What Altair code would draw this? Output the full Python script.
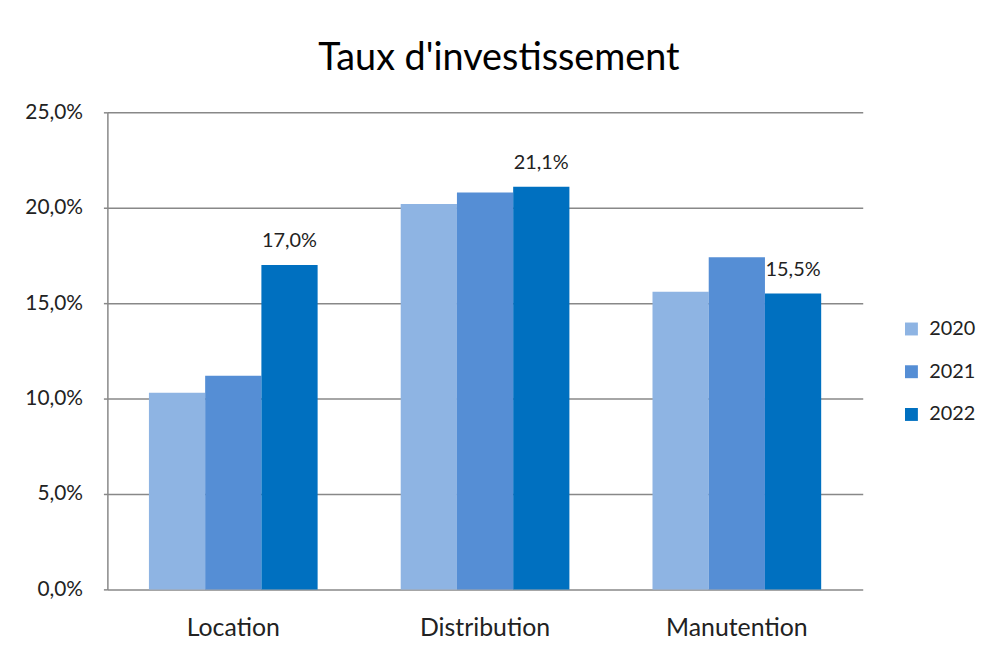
import altair as alt
import pandas as pd

categories = ["Location", "Distribution", "Manutention"]
years = ["2020", "2021", "2022"]
v2020 = [10.3, 20.2, 15.6]
v2021 = [11.2, 20.8, 17.4]
v2022 = [17.0, 21.1, 15.5]
y_ticks = [0, 5, 10, 15, 20, 25]
colors = ["#8EB4E3", "#558ED5", "#0070C0"]

rows = []
for yr, vals in zip(years, [v2020, v2021, v2022]):
    for c, v in zip(categories, vals):
        rows.append({"cat": c, "year": yr, "value": v})
df = pd.DataFrame(rows)

FONT = "Lato"

x = alt.X(
    "cat:N",
    sort=categories,
    scale=alt.Scale(paddingInner=0.33, paddingOuter=0.165),
    axis=alt.Axis(title=None, labelAngle=0, domain=False, ticks=False,
                  labelFontSize=25, labelPadding=26, labelColor="#222",
                  labelFont=FONT),
)
xoff = alt.XOffset("year:N", sort=years,
                   scale=alt.Scale(paddingInner=0, paddingOuter=0))

y = alt.Y(
    "value:Q",
    scale=alt.Scale(domain=[0, 25], nice=False),
    axis=alt.Axis(title=None, values=y_ticks,
                  labelExpr="replace(format(datum.value, '.1f'), '.', ',') + '%'",
                  grid=True, gridColor="#888888", gridWidth=1.5,
                  domainColor="#888888", domainWidth=1.5,
                  tickColor="#888888", tickWidth=1.5, tickSize=4,
                  labelFontSize=21, labelPadding=21, labelColor="#222",
                  labelFont=FONT, minExtent=95, maxExtent=95),
)

base = alt.Chart(df).encode(x=x, xOffset=xoff)

bars = base.mark_bar().encode(
    y=y,
    color=alt.Color(
        "year:N",
        scale=alt.Scale(domain=years, range=colors),
        legend=alt.Legend(title=None, orient="none", legendX=799, legendY=208,
                          symbolType="square", symbolSize=169,
                          symbolStrokeWidth=0, labelFontSize=20,
                          labelFont=FONT, labelColor="#222",
                          rowPadding=23, labelOffset=8),
    ),
)

labels = base.transform_filter("datum.year == '2022'").transform_calculate(
    label="replace(format(datum.value, '.1f'), '.', ',') + '%'"
).mark_text(dy=-14, baseline="bottom", fontSize=20, font=FONT,
            color="#222").encode(y=alt.Y("value:Q"), text="label:N")

chart = alt.layer(bars, labels).properties(
    width=760,
    height=480,
    padding={"left": 5, "top": 30, "right": 5, "bottom": 5},
    title=alt.TitleParams("Taux d'investissement", fontSize=38, font=FONT,
                          fontWeight="normal", color="#000", offset=24,
                          dx=14, anchor="middle"),
).configure_view(stroke=None)

chart.save("out.html", embed_options={"renderer": "svg", "actions": False})
